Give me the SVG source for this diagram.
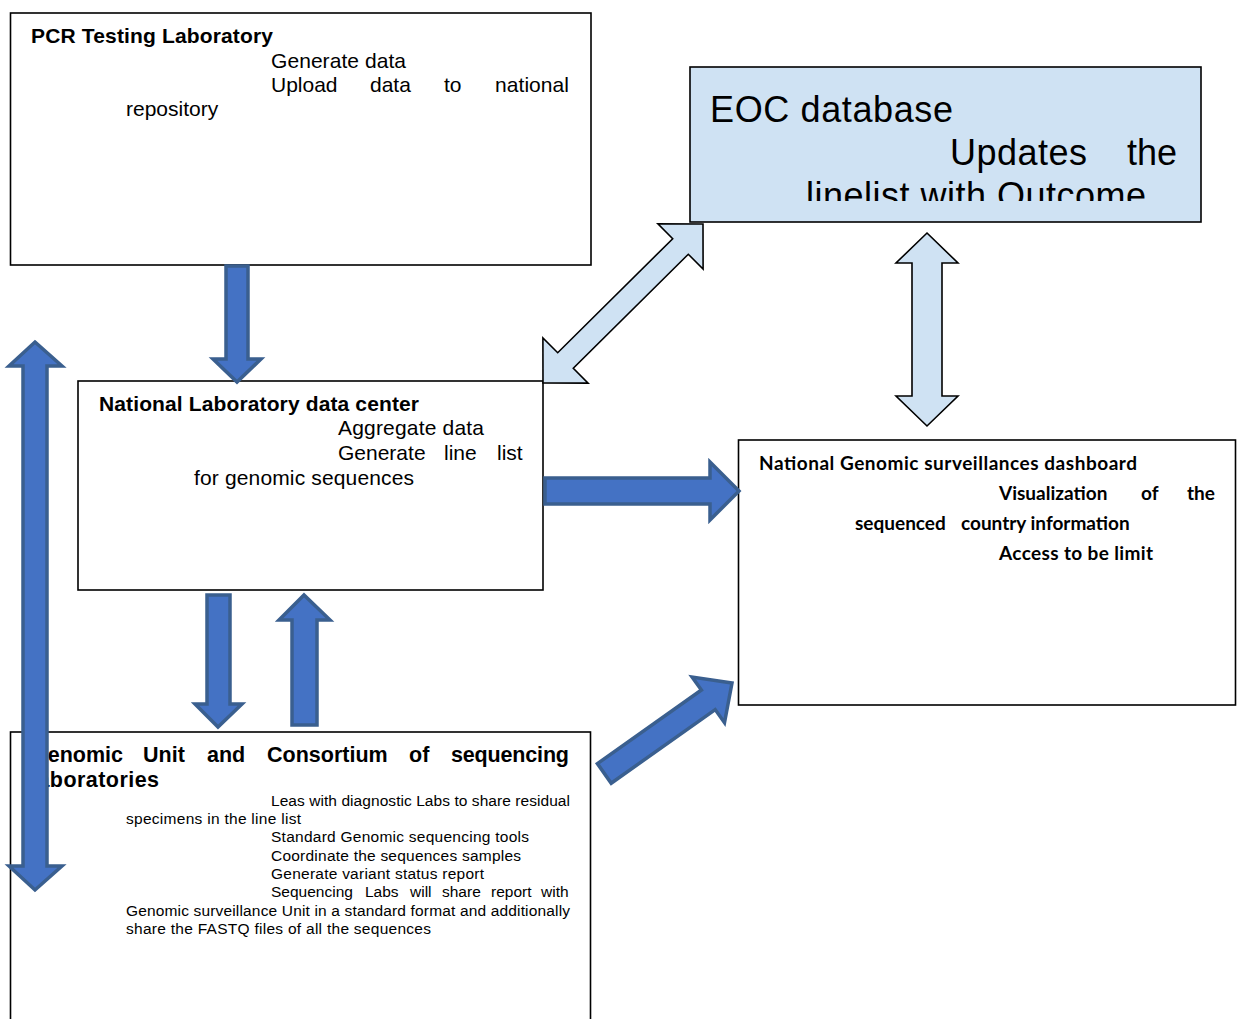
<svg xmlns="http://www.w3.org/2000/svg" width="1243" height="1019" viewBox="0 0 1243 1019">
<style>
.box{fill:#ffffff;stroke:#000000;stroke-width:1.6}
.eoc{fill:#cfe2f3;stroke:#000000;stroke-width:1.6}
.t{font-family:"Liberation Sans",Arial,sans-serif;fill:#000}
.b{font-weight:bold}
.cal{font-family:Lato,"Open Sans",sans-serif;font-weight:bold;fill:#000}
.dk{fill:#4472c4;stroke:#3a5f8f;stroke-width:3.5;stroke-linejoin:miter}
.lt{fill:#cfe2f3;stroke:#000000;stroke-width:1.6;stroke-linejoin:miter}
</style>
<defs>
<clipPath id="eocclip"><rect x="690" y="67" width="511" height="134"/></clipPath>
</defs>
<rect width="1243" height="1019" fill="#ffffff"/>
<g id="pcr">
<rect class="box" x="10.5" y="13" width="580.5" height="252"/>
<text class="t b" x="31" y="43" font-size="21" textLength="242">PCR Testing Laboratory</text>
<text class="t" x="271" y="68" font-size="21" textLength="135">Generate data</text>
<text class="t" y="92" font-size="21"><tspan x="271">Upload</tspan> <tspan x="370">data</tspan> <tspan x="444">to</tspan> <tspan x="495" textLength="74">national</tspan></text>
<text class="t" x="126" y="116" font-size="21">repository</text>
</g>
<g id="eoc">
<rect class="eoc" x="690" y="67" width="511" height="155"/>
<g clip-path="url(#eocclip)">
<text class="t" x="710" y="122" font-size="36" textLength="243">EOC database</text>
<text class="t" y="165" font-size="36"><tspan x="950" textLength="137">Updates</tspan> <tspan x="1127">the</tspan></text>
<text class="t" x="806" y="208" font-size="36" textLength="340">linelist with Outcome</text>
</g>
</g>
<g id="nldc">
<rect class="box" x="78" y="381" width="465" height="209"/>
<text class="t b" x="99" y="411" font-size="21" textLength="320">National Laboratory data center</text>
<text class="t" x="338" y="435" font-size="21" textLength="146">Aggregate data</text>
<text class="t" y="460" font-size="21"><tspan x="338">Generate</tspan> <tspan x="444">line</tspan> <tspan x="497">list</tspan></text>
<text class="t" x="194" y="485" font-size="21" textLength="220">for genomic sequences</text>
</g>
<g id="dashboard">
<rect class="box" x="738.5" y="440" width="497" height="265"/>
<text class="cal" x="759" y="470" font-size="19" textLength="378">National Genomic surveillances dashboard</text>
<text class="cal" y="500" font-size="19"><tspan x="999">Visualization</tspan> <tspan x="1141">of</tspan> <tspan x="1187">the</tspan></text>
<text class="cal" y="530" font-size="19"><tspan x="855">sequenced</tspan>  <tspan x="961">country information</tspan></text>
<text class="cal" x="999" y="560" font-size="19" textLength="154">Access to be limit</text>
</g>
<g id="genomic">
<rect class="box" x="10.5" y="732" width="580" height="300"/>
<text class="t b" y="762" font-size="21.5"><tspan x="31">Genomic</tspan> <tspan x="143">Unit</tspan> <tspan x="207">and</tspan> <tspan x="267">Consortium</tspan> <tspan x="409">of</tspan> <tspan x="451" textLength="118">sequencing</tspan></text>
<text class="t b" x="31" y="787" font-size="21.5" textLength="128">laboratories</text>
<text class="t" x="271" y="806" font-size="15.5" textLength="299">Leas with diagnostic Labs to share residual</text>
<text class="t" x="126" y="824" font-size="15.5" textLength="175">specimens in the line list</text>
<text class="t" x="271" y="842" font-size="15.5" textLength="258">Standard Genomic sequencing tools</text>
<text class="t" x="271" y="861" font-size="15.5" textLength="250">Coordinate the sequences samples</text>
<text class="t" x="271" y="879" font-size="15.5" textLength="213">Generate variant status report</text>
<text class="t" y="897" font-size="15.5"><tspan x="271">Sequencing</tspan> <tspan x="365">Labs</tspan> <tspan x="410">will</tspan> <tspan x="442">share</tspan> <tspan x="491">report</tspan> <tspan x="541">with</tspan></text>
<text class="t" x="126" y="916" font-size="15.5" textLength="444">Genomic surveillance Unit in a standard format and additionally</text>
<text class="t" x="126" y="934" font-size="15.5" textLength="305">share the FASTQ files of all the sequences</text>
</g>
<g id="connectors">
<polygon class="dk" points="226,266 248,266 248,359 261,359 237,382 213,359 226,359"/>
<polygon class="dk" points="35,342 62,366 47,366 47,866 62,866 35,890 9,866 23,866 23,366 9,366"/>
<polygon class="dk" points="207,595 230,595 230,704 242,704 218,727 195,704 207,704"/>
<polygon class="dk" points="292,725 317,725 317,620 330,620 304,595 279,620 292,620"/>
<polygon class="dk" points="545,478 710,478 710,462 739,491 710,520 710,504 545,504"/>
<polygon class="dk" points="597.4,763.6 701.4,690 692.1,677 732,683 724.5,722.7 715.2,709.6 611.2,783.2"/>
<polygon class="lt" points="703,224 703.1,269.1 688.3,254.3 573.3,368.3 588.1,383.1 543,383 542.9,337.9 557.7,352.7 672.7,238.7 657.9,223.9"/>
<polygon class="lt" points="927,233 958,263 942,263 942,396 958,396 927,426 896,396 912,396 912,263 896,263"/>
</g>
</svg>
